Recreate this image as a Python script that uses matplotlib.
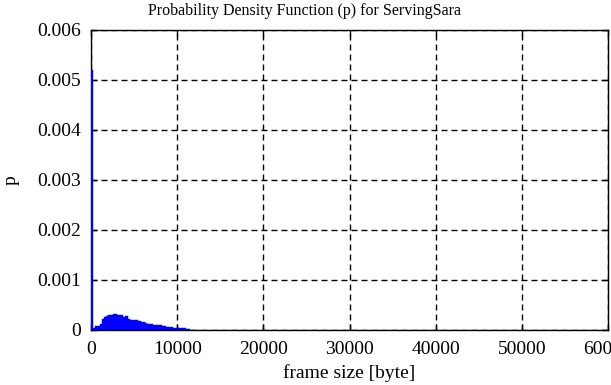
import matplotlib
matplotlib.use("Agg")
import matplotlib.pyplot as plt
import numpy as np

# histogram: 250-byte bins from 0 to 12000
bin_width = 250
p_head = [0.0052, 0.00005, 0.00009, 0.00009, 0.00013, 0.00023, 0.00027, 0.00029,
          0.00031, 0.00031, 0.00032, 0.00032, 0.00031, 0.00030, 0.00030, 0.00027,
          0.00029, 0.00023, 0.00021, 0.00020, 0.00020, 0.00020, 0.00018, 0.00017,
          0.00016, 0.00014, 0.00013, 0.00012, 0.00012, 0.00011, 0.00010, 0.00010,
          0.00010, 0.000085, 0.000085, 0.00007, 0.00007, 0.00006, 0.00005, 0.00005,
          0.00004, 0.00004, 0.00005, 0.00004, 0.00002, 0.00002, 0.00001, 0.00001]
# sparse tail, 4000-byte bins from 12000 to 60000
tail_width = 4000
p_tail = [0.000008, 0.000006, 0.000006, 0.000005, 0.000005, 0.000004,
          0.000004, 0.000004, 0.000003, 0.000003, 0.000003, 0.000003]

xticks = [0, 10000, 20000, 30000, 40000, 50000, 60000]
yticks = [0, 0.001, 0.002, 0.003, 0.004, 0.005, 0.006]
ytick_labels = ["0", "0.001", "0.002", "0.003", "0.004", "0.005", "0.006"]

plt.rcParams['font.family'] = ['Liberation Serif', 'DejaVu Serif']

fig = plt.figure(figsize=(6.11, 3.85), dpi=100)
ax = fig.add_axes([91 / 611, 55 / 385, 517 / 611, 300 / 385])

edges_head = np.arange(len(p_head)) * bin_width
ax.bar(edges_head, p_head, width=bin_width, align='edge', color='#0000ff',
       edgecolor='#0000ff', linewidth=0.3, zorder=3)
edges_tail = 12000 + np.arange(len(p_tail)) * tail_width
ax.bar(edges_tail, p_tail, width=tail_width, align='edge', color='#0000ff',
       edgecolor='#0000ff', linewidth=0.8, zorder=3)

ax.set_xlim(0, 60000)
ax.set_ylim(0, 0.006)
ax.set_xticks(xticks)
ax.set_xticklabels([str(t) for t in xticks])
ax.set_yticks(yticks)
ax.set_yticklabels(ytick_labels)

ax.grid(True, color='black', linestyle=(0, (4.3, 2.9)), linewidth=1.0)
ax.tick_params(direction='in', length=4.5, width=1, top=True, right=True,
               labelsize=14, colors='black')
ax.tick_params(axis='x', pad=8)
ax.tick_params(axis='y', pad=7)
for s in ax.spines.values():
    s.set_linewidth(1.0)
    s.set_zorder(2)

fig.text(305 / 611, 1 - 15 / 385, "Probability Density Function (p) for ServingSara",
         fontsize=11.5, ha='center', va='baseline')
ax.set_xlabel("frame size [byte]", fontsize=14, labelpad=4)
ax.set_ylabel("p", fontsize=14, labelpad=13)

fig.savefig("out.png", dpi=100)
